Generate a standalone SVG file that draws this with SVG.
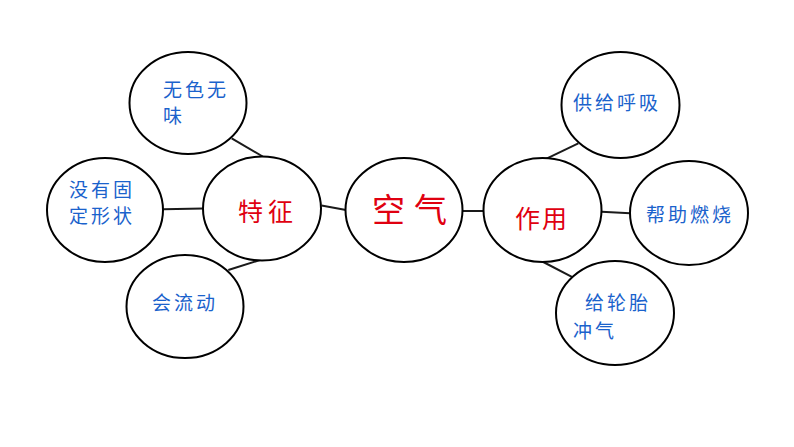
<svg xmlns="http://www.w3.org/2000/svg" width="794" height="447" viewBox="0 0 794 447">
<style>
.n{fill:#fff;stroke:#000;stroke-width:2}
.c line{stroke:#1a1a1a;stroke-width:2}
.b{font-family:"Noto Sans CJK SC","Noto Sans",sans-serif;fill:#1a62cc;font-size:19px;letter-spacing:3px}
.r{font-family:"Noto Sans CJK SC","Noto Sans",sans-serif;fill:#e00010}
</style>
<rect width="794" height="447" fill="#fff"/>
<g class="c" id="connectors">
<line x1="231.7" y1="138.3" x2="262.7" y2="156.5"/>
<line x1="163.3" y1="209.3" x2="203.3" y2="208.5"/>
<line x1="228.3" y1="270" x2="260" y2="260"/>
<line x1="321.5" y1="205.5" x2="346" y2="210"/>
<line x1="462.5" y1="211" x2="483.5" y2="211"/>
<line x1="545" y1="159.3" x2="578.3" y2="143.3"/>
<line x1="601.5" y1="211.7" x2="630" y2="213.3"/>
<line x1="543.3" y1="262" x2="573.3" y2="277.7"/>
</g>
<g id="n-wuse">
<ellipse class="n" cx="188" cy="103" rx="58.5" ry="51"/>
<text class="b" x="163" y="97">无色无</text>
<text class="b" x="163" y="123">味</text>
</g>
<g id="n-meiyou">
<ellipse class="n" cx="105" cy="210" rx="58" ry="52"/>
<text class="b" x="69" y="197">没有固</text>
<text class="b" x="69" y="223">定形状</text>
</g>
<g id="n-huiliudong">
<ellipse class="n" cx="185" cy="306.5" rx="58.5" ry="51.5"/>
<text class="b" x="152" y="310">会流动</text>
</g>
<g id="n-tezheng">
<ellipse class="n" cx="262" cy="208.5" rx="59" ry="52"/>
<text class="r" x="238" y="221" font-size="25" letter-spacing="5">特征</text>
</g>
<g id="n-kongqi">
<ellipse class="n" cx="404" cy="210" rx="58.5" ry="52"/>
<text class="r" x="372" y="222" font-size="33" letter-spacing="9">空气</text>
</g>
<g id="n-zuoyong">
<ellipse class="n" cx="542.5" cy="210" rx="59" ry="52"/>
<text class="r" x="515" y="228" font-size="25" letter-spacing="2">作用</text>
</g>
<g id="n-gongji">
<ellipse class="n" cx="620.5" cy="105" rx="59" ry="53"/>
<text class="b" x="573" y="110">供给呼吸</text>
</g>
<g id="n-bangzhu">
<ellipse class="n" cx="689" cy="213" rx="59" ry="52"/>
<text class="b" x="646" y="222">帮助燃烧</text>
</g>
<g id="n-luntai">
<ellipse class="n" cx="615" cy="313" rx="59" ry="52"/>
<text class="b" x="585" y="310">给轮胎</text>
<text class="b" x="573" y="338">冲气</text>
</g>
</svg>
